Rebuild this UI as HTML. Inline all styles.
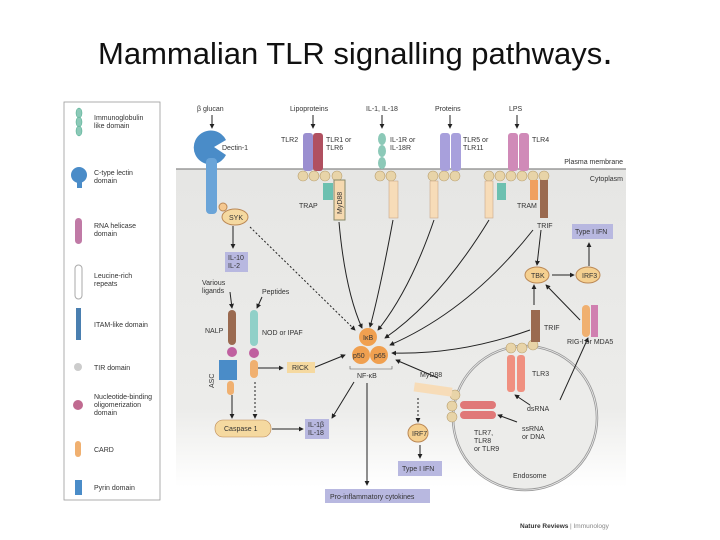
<!DOCTYPE html>
<html><head><meta charset="utf-8"><style>
body{margin:0;width:720px;height:540px;background:#fff;overflow:hidden;font-family:"Liberation Sans",sans-serif}
.t{position:absolute;left:98px;top:31px;font-size:31px;color:#111;white-space:nowrap}
svg{position:absolute;left:0;top:0}
text{font-family:"Liberation Sans",sans-serif;font-size:7px;fill:#333}
</style></head><body>
<div class="t">Mammalian TLR signalling pathways<span style="font-size:38px">.</span></div>
<svg width="720" height="540" viewBox="0 0 720 540">
<defs>
<linearGradient id="g" x1="0" y1="0" x2="0" y2="1"><stop offset="0" stop-color="#e6e6e4"/><stop offset="0.75" stop-color="#ececea"/><stop offset="1" stop-color="#fff"/></linearGradient>
<marker id="a" viewBox="0 0 6 6" refX="5" refY="3" markerWidth="5" markerHeight="5" orient="auto"><path d="M0,0L6,3L0,6z" fill="#222"/></marker>
</defs>
<rect x="64" y="102" width="96" height="398" fill="#fff" stroke="#999" stroke-width="0.8"/>
<g fill="#8cc9b8" stroke="#4a8" stroke-width="0.5"><ellipse cx="79" cy="113" rx="3" ry="5"/><ellipse cx="79" cy="122" rx="3" ry="5"/><ellipse cx="79" cy="131" rx="3" ry="5"/></g>
<text x="94" y="120">Immunoglobulin</text><text x="94" y="128">like domain</text>
<circle cx="79" cy="175" r="8" fill="#4a8cc8"/><rect x="77" y="180" width="5" height="8" fill="#4a8cc8"/>
<text x="94" y="175">C-type lectin</text><text x="94" y="183">domain</text>
<rect x="75" y="218" width="7" height="26" rx="3.5" fill="#c07aa6"/><text x="94" y="228">RNA helicase</text><text x="94" y="236">domain</text>
<rect x="75" y="265" width="7" height="34" rx="3.5" fill="#fff" stroke="#aaa"/><text x="94" y="278">Leucine-rich</text><text x="94" y="286">repeats</text>
<rect x="76" y="308" width="5" height="32" fill="#4a7fb0"/><text x="94" y="327">ITAM-like domain</text>
<circle cx="78" cy="367" r="4" fill="#ccc"/><text x="94" y="370">TIR domain</text>
<circle cx="78" cy="405" r="5" fill="#c06a90"/><text x="94" y="399">Nucleotide-binding</text><text x="94" y="407">oligomerization</text><text x="94" y="415">domain</text>
<rect x="75" y="441" width="6" height="16" rx="3" fill="#f0b070"/><text x="94" y="452">CARD</text>
<rect x="75" y="480" width="7" height="15" fill="#4a8cc8"/><text x="94" y="490">Pyrin domain</text>
<rect x="176" y="169" width="450" height="318" fill="url(#g)"/>
<line x1="176" y1="169" x2="626" y2="169" stroke="#888" stroke-width="1.2"/>
<text x="623" y="164" text-anchor="end">Plasma membrane</text><text x="623" y="181" text-anchor="end">Cytoplasm</text>
<text x="197" y="111">β glucan</text><text x="290" y="111">Lipoproteins</text><text x="366" y="111">IL-1, IL-18</text><text x="435" y="111">Proteins</text><text x="509" y="111">LPS</text>
<g stroke="#222" stroke-width="1" marker-end="url(#a)"><line x1="212" y1="115" x2="212" y2="128"/><line x1="313" y1="115" x2="313" y2="128"/><line x1="382" y1="115" x2="382" y2="128"/><line x1="450" y1="115" x2="450" y2="128"/><line x1="517" y1="115" x2="517" y2="128"/></g>
<path d="M212,147 m14,-7 A17,17 0 1 0 226,155 L214,147z" fill="#4a8cc8"/>
<rect x="206" y="158" width="11" height="56" rx="4" fill="#6aa4d8"/>
<text x="222" y="150">Dectin-1</text>
<circle cx="223" cy="207" r="4" fill="#f5c890" stroke="#b85"/><ellipse cx="235" cy="217" rx="13" ry="8" fill="#f5d9a0" stroke="#b85"/><text x="229" y="220">SYK</text>
<line x1="233" y1="226" x2="233" y2="248" stroke="#222" marker-end="url(#a)"/>
<rect x="225" y="252" width="23" height="20" fill="#b8b8e0"/><text x="228" y="260">IL-10</text><text x="228" y="268">IL-2</text>
<rect x="303" y="133" width="10" height="38" rx="3" fill="#9b8fd0"/><rect x="313" y="133" width="10" height="38" rx="3" fill="#b05060"/>
<text x="281" y="142">TLR2</text><text x="326" y="142">TLR1 or</text><text x="326" y="150">TLR6</text>
<g fill="#e8d4a8" stroke="#b9a070" stroke-width="0.6">
<circle cx="303" cy="176" r="5"/><circle cx="314" cy="176" r="5"/><circle cx="325" cy="176" r="5"/><circle cx="337" cy="176" r="5"/>
<circle cx="380" cy="176" r="5"/><circle cx="391" cy="176" r="5"/>
<circle cx="433" cy="176" r="5"/><circle cx="444" cy="176" r="5"/><circle cx="455" cy="176" r="5"/>
<circle cx="489" cy="176" r="5"/><circle cx="500" cy="176" r="5"/><circle cx="511" cy="176" r="5"/><circle cx="522" cy="176" r="5"/><circle cx="533" cy="176" r="5"/><circle cx="544" cy="176" r="5"/>
</g>
<rect x="323" y="183" width="10" height="17" fill="#6cc0b0"/><text x="299" y="208">TRAP</text>
<rect x="334" y="180" width="11" height="40" fill="#f5d9b0" stroke="#886"/><text transform="translate(342,214) rotate(-90)">MyD88</text>
<g fill="#f7dcb8" stroke="#c9a98a" stroke-width="0.6"><rect x="389" y="181" width="9" height="37"/><rect x="430" y="181" width="8" height="37"/><rect x="485" y="181" width="8" height="37"/></g>
<g fill="#8cc9b8"><ellipse cx="382" cy="139" rx="4" ry="6"/><ellipse cx="382" cy="151" rx="4" ry="6"/><ellipse cx="382" cy="163" rx="4" ry="6"/></g>
<text x="390" y="142">IL-1R or</text><text x="390" y="150">IL-18R</text>
<rect x="440" y="133" width="10" height="38" rx="3" fill="#a8a0dc"/><rect x="451" y="133" width="10" height="38" rx="3" fill="#a8a0dc"/><text x="463" y="142">TLR5 or</text><text x="463" y="150">TLR11</text>
<rect x="508" y="133" width="10" height="38" rx="3" fill="#d08ab8"/><rect x="519" y="133" width="10" height="38" rx="3" fill="#d08ab8"/><text x="532" y="142">TLR4</text>
<rect x="497" y="183" width="9" height="17" fill="#6cc0b0"/><rect x="530" y="180" width="8" height="20" fill="#f0a060"/><rect x="540" y="180" width="8" height="38" fill="#9a6a50"/>
<text x="517" y="208">TRAM</text><text x="537" y="228">TRIF</text>
<rect x="572" y="224" width="41" height="15" fill="#b8b8e0"/><text x="575" y="234">Type I IFN</text>
<ellipse cx="537" cy="275" rx="12" ry="8" fill="#f5d090" stroke="#b85"/><text x="531" y="278">TBK</text>
<ellipse cx="588" cy="275" rx="12" ry="8" fill="#f5d090" stroke="#b85"/><text x="582" y="278">IRF3</text>
<g stroke="#222" stroke-width="1" fill="none" marker-end="url(#a)">
<line x1="552" y1="275" x2="574" y2="275"/><line x1="589" y1="266" x2="589" y2="243"/><line x1="541" y1="230" x2="537" y2="265"/>
<line x1="534" y1="305" x2="534" y2="285"/><line x1="580" y1="320" x2="546" y2="285"/>
<path d="M339,222 Q345,290 362,328"/><path d="M393,220 Q380,290 370,327"/><path d="M434,220 Q410,290 378,330"/><path d="M489,220 Q440,300 385,338"/>
<path d="M533,230 Q470,310 390,345"/><path d="M530,330 Q460,355 392,353"/>
<line x1="250" y1="227" x2="355" y2="330" stroke-dasharray="2,2"/>
<line x1="438" y1="378" x2="396" y2="360"/>
<line x1="313" y1="368" x2="345" y2="355"/><line x1="258" y1="368" x2="283" y2="368"/>
<line x1="354" y1="382" x2="332" y2="418"/><line x1="367" y1="383" x2="367" y2="485"/>
<line x1="272" y1="429" x2="303" y2="429"/><line x1="232" y1="395" x2="232" y2="418"/><line x1="255" y1="382" x2="255" y2="418" stroke-dasharray="2,2"/>
<line x1="418" y1="398" x2="418" y2="422" stroke-dasharray="2,2"/><line x1="420" y1="445" x2="420" y2="458"/>
<line x1="230" y1="292" x2="232" y2="308"/><line x1="262" y1="297" x2="257" y2="308"/>
</g>
<text x="202" y="285">Various</text><text x="202" y="293">ligands</text><text x="262" y="294">Peptides</text>
<circle cx="368" cy="337" r="9" fill="#f0a050"/><text x="363" y="340">IκB</text>
<circle cx="361" cy="355" r="9" fill="#f0a050"/><circle cx="379" cy="355" r="9" fill="#f0a050"/><text x="353" y="358">p50</text><text x="374" y="358">p65</text>
<path d="M350,366 v3 h42 v-3" fill="none" stroke="#555" stroke-width="0.6"/><text x="357" y="378">NF-κB</text>
<rect x="228" y="310" width="8" height="35" rx="4" fill="#9a6a50"/><circle cx="232" cy="352" r="5" fill="#c060a0"/>
<rect x="219" y="360" width="18" height="20" fill="#4a8cc8"/><rect x="227" y="381" width="7" height="14" rx="3.5" fill="#f0b070"/>
<text x="205" y="333">NALP</text><text transform="translate(214,388) rotate(-90)">ASC</text>
<rect x="250" y="310" width="8" height="36" rx="4" fill="#90d0c8"/><circle cx="254" cy="353" r="5" fill="#c060a0"/><rect x="250" y="360" width="8" height="18" rx="4" fill="#f0b070"/>
<text x="262" y="335">NOD or IPAF</text>
<rect x="287" y="362" width="28" height="11" fill="#f5d9a0"/><text x="292" y="370">RICK</text>
<rect x="215" y="420" width="56" height="17" rx="8" fill="#f5d9a0" stroke="#b85" stroke-width="0.6"/><text x="224" y="431">Caspase 1</text>
<rect x="305" y="419" width="24" height="20" fill="#b8b8e0"/><text x="308" y="427">IL-1β</text><text x="308" y="435">IL-18</text>
<rect x="325" y="489" width="105" height="14" fill="#b8b8e0"/><text x="330" y="499">Pro-inflammatory cytokines</text>
<circle cx="525" cy="418" r="72" fill="#ececea" stroke="#999" stroke-width="2.5"/>
<circle cx="525" cy="418" r="72" fill="none" stroke="#eee" stroke-width="0.8"/>
<g stroke="#222" stroke-width="1" fill="none" marker-end="url(#a)">
<line x1="530" y1="405" x2="515" y2="395"/><line x1="517" y1="422" x2="498" y2="415"/><line x1="560" y1="400" x2="588" y2="338"/>
</g>
<rect x="507" y="355" width="8" height="37" rx="3" fill="#f09080"/><rect x="517" y="355" width="8" height="37" rx="3" fill="#f09080"/>
<g fill="#e8d4a8" stroke="#b9a070" stroke-width="0.6"><circle cx="511" cy="348" r="5"/><circle cx="522" cy="348" r="5"/><circle cx="533" cy="345" r="5"/><circle cx="455" cy="395" r="5"/><circle cx="452" cy="406" r="5"/><circle cx="452" cy="417" r="5"/></g>
<rect x="531" y="310" width="9" height="32" fill="#9a6a50"/><text x="544" y="330">TRIF</text><text x="532" y="376">TLR3</text>
<rect x="582" y="305" width="8" height="32" rx="4" fill="#f0b070"/><rect x="591" y="305" width="7" height="32" fill="#d080b0"/><text x="567" y="344">RIG-I or MDA5</text>
<rect x="414" y="385" width="38" height="9" fill="#f7dcb8" transform="rotate(8 433 390)"/><text x="420" y="377">MyD88</text>
<rect x="460" y="401" width="36" height="8" rx="4" fill="#e07878"/><rect x="460" y="411" width="36" height="8" rx="4" fill="#e07878"/>
<text x="527" y="411">dsRNA</text><text x="522" y="431">ssRNA</text><text x="522" y="439">or DNA</text>
<text x="474" y="435">TLR7,</text><text x="474" y="443">TLR8</text><text x="474" y="451">or TLR9</text><text x="513" y="478">Endosome</text>
<ellipse cx="418" cy="433" rx="10" ry="9" fill="#f5d090" stroke="#b85"/><text x="412" y="436">IRF7</text>
<rect x="398" y="461" width="44" height="15" fill="#b8b8e0"/><text x="402" y="471">Type I IFN</text>
<text x="520" y="528" style="font-weight:bold;font-size:6.5px">Nature Reviews</text><text x="570" y="528" style="font-size:6.5px;fill:#888">| Immunology</text>
</svg>
</body></html>
